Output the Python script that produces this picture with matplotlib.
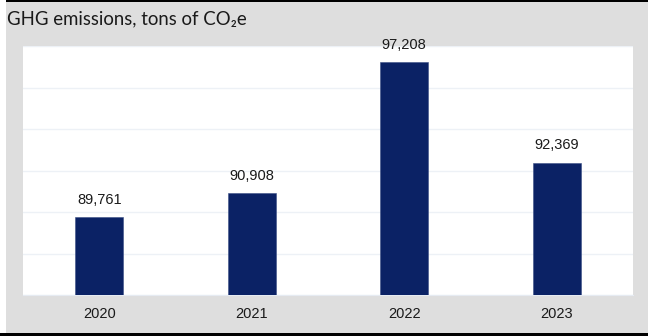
import matplotlib.pyplot as plt
from matplotlib.patches import Rectangle

# Chart data
years = ["2020", "2021", "2022", "2023"]
emissions = [89761, 90908, 97208, 92369]

# Figure with grey panel background
fig = plt.figure(figsize=(6.48, 3.36), dpi=100, facecolor="#dedede")

# White strip on the left, black rules on top and bottom
fig.patches.append(Rectangle((0, 0), 6 / 648, 1, transform=fig.transFigure,
                             facecolor="white", edgecolor="none", zorder=0))
fig.patches.append(Rectangle((6 / 648, 1 - 1.5 / 336), 1, 1.5 / 336, transform=fig.transFigure,
                             facecolor="black", edgecolor="none"))
fig.patches.append(Rectangle((0, 0), 1, 3.5 / 336, transform=fig.transFigure,
                             facecolor="black", edgecolor="none"))

fig.text(7 / 648, 1 - 18.5 / 336, "GHG emissions, tons of CO\u2082e", family="Lato",
         fontsize=13.4, color="#1a1a1a", va="center", ha="left")

ax = fig.add_axes([23 / 648, 41 / 336, 610 / 648, 249 / 336])
ax.set_facecolor("white")

x = range(len(years))
bars = ax.bar(x, emissions, width=0.315, color="#0b2265", edgecolor="#3b4f85",
              linewidth=0.4, zorder=3)

ax.set_xlim(-0.5, 3.5)
ax.set_ylim(86000, 98000)
ax.set_yticks(range(86000, 98001, 2000))
ax.yaxis.grid(True, color="#edf1f6", linewidth=1, zorder=0)
ax.tick_params(axis="y", left=False, labelleft=False)
ax.tick_params(axis="x", length=0, pad=9)
ax.set_xticks(list(x))
ax.set_xticklabels(years, family="Liberation Sans", fontsize=10.5, color="#1a1a1a")

for spine in ["top", "right", "left"]:
    ax.spines[spine].set_visible(False)
ax.spines["bottom"].set_color("#e6ebf2")

for xi, v in zip(x, emissions):
    ax.annotate(f"{v:,}", (xi, v), xytext=(0, 7.5), textcoords="offset points",
                ha="center", va="bottom", family="Liberation Sans", fontsize=10.5,
                color="#1a1a1a")

fig.savefig("out.png", dpi=100, facecolor=fig.get_facecolor())
